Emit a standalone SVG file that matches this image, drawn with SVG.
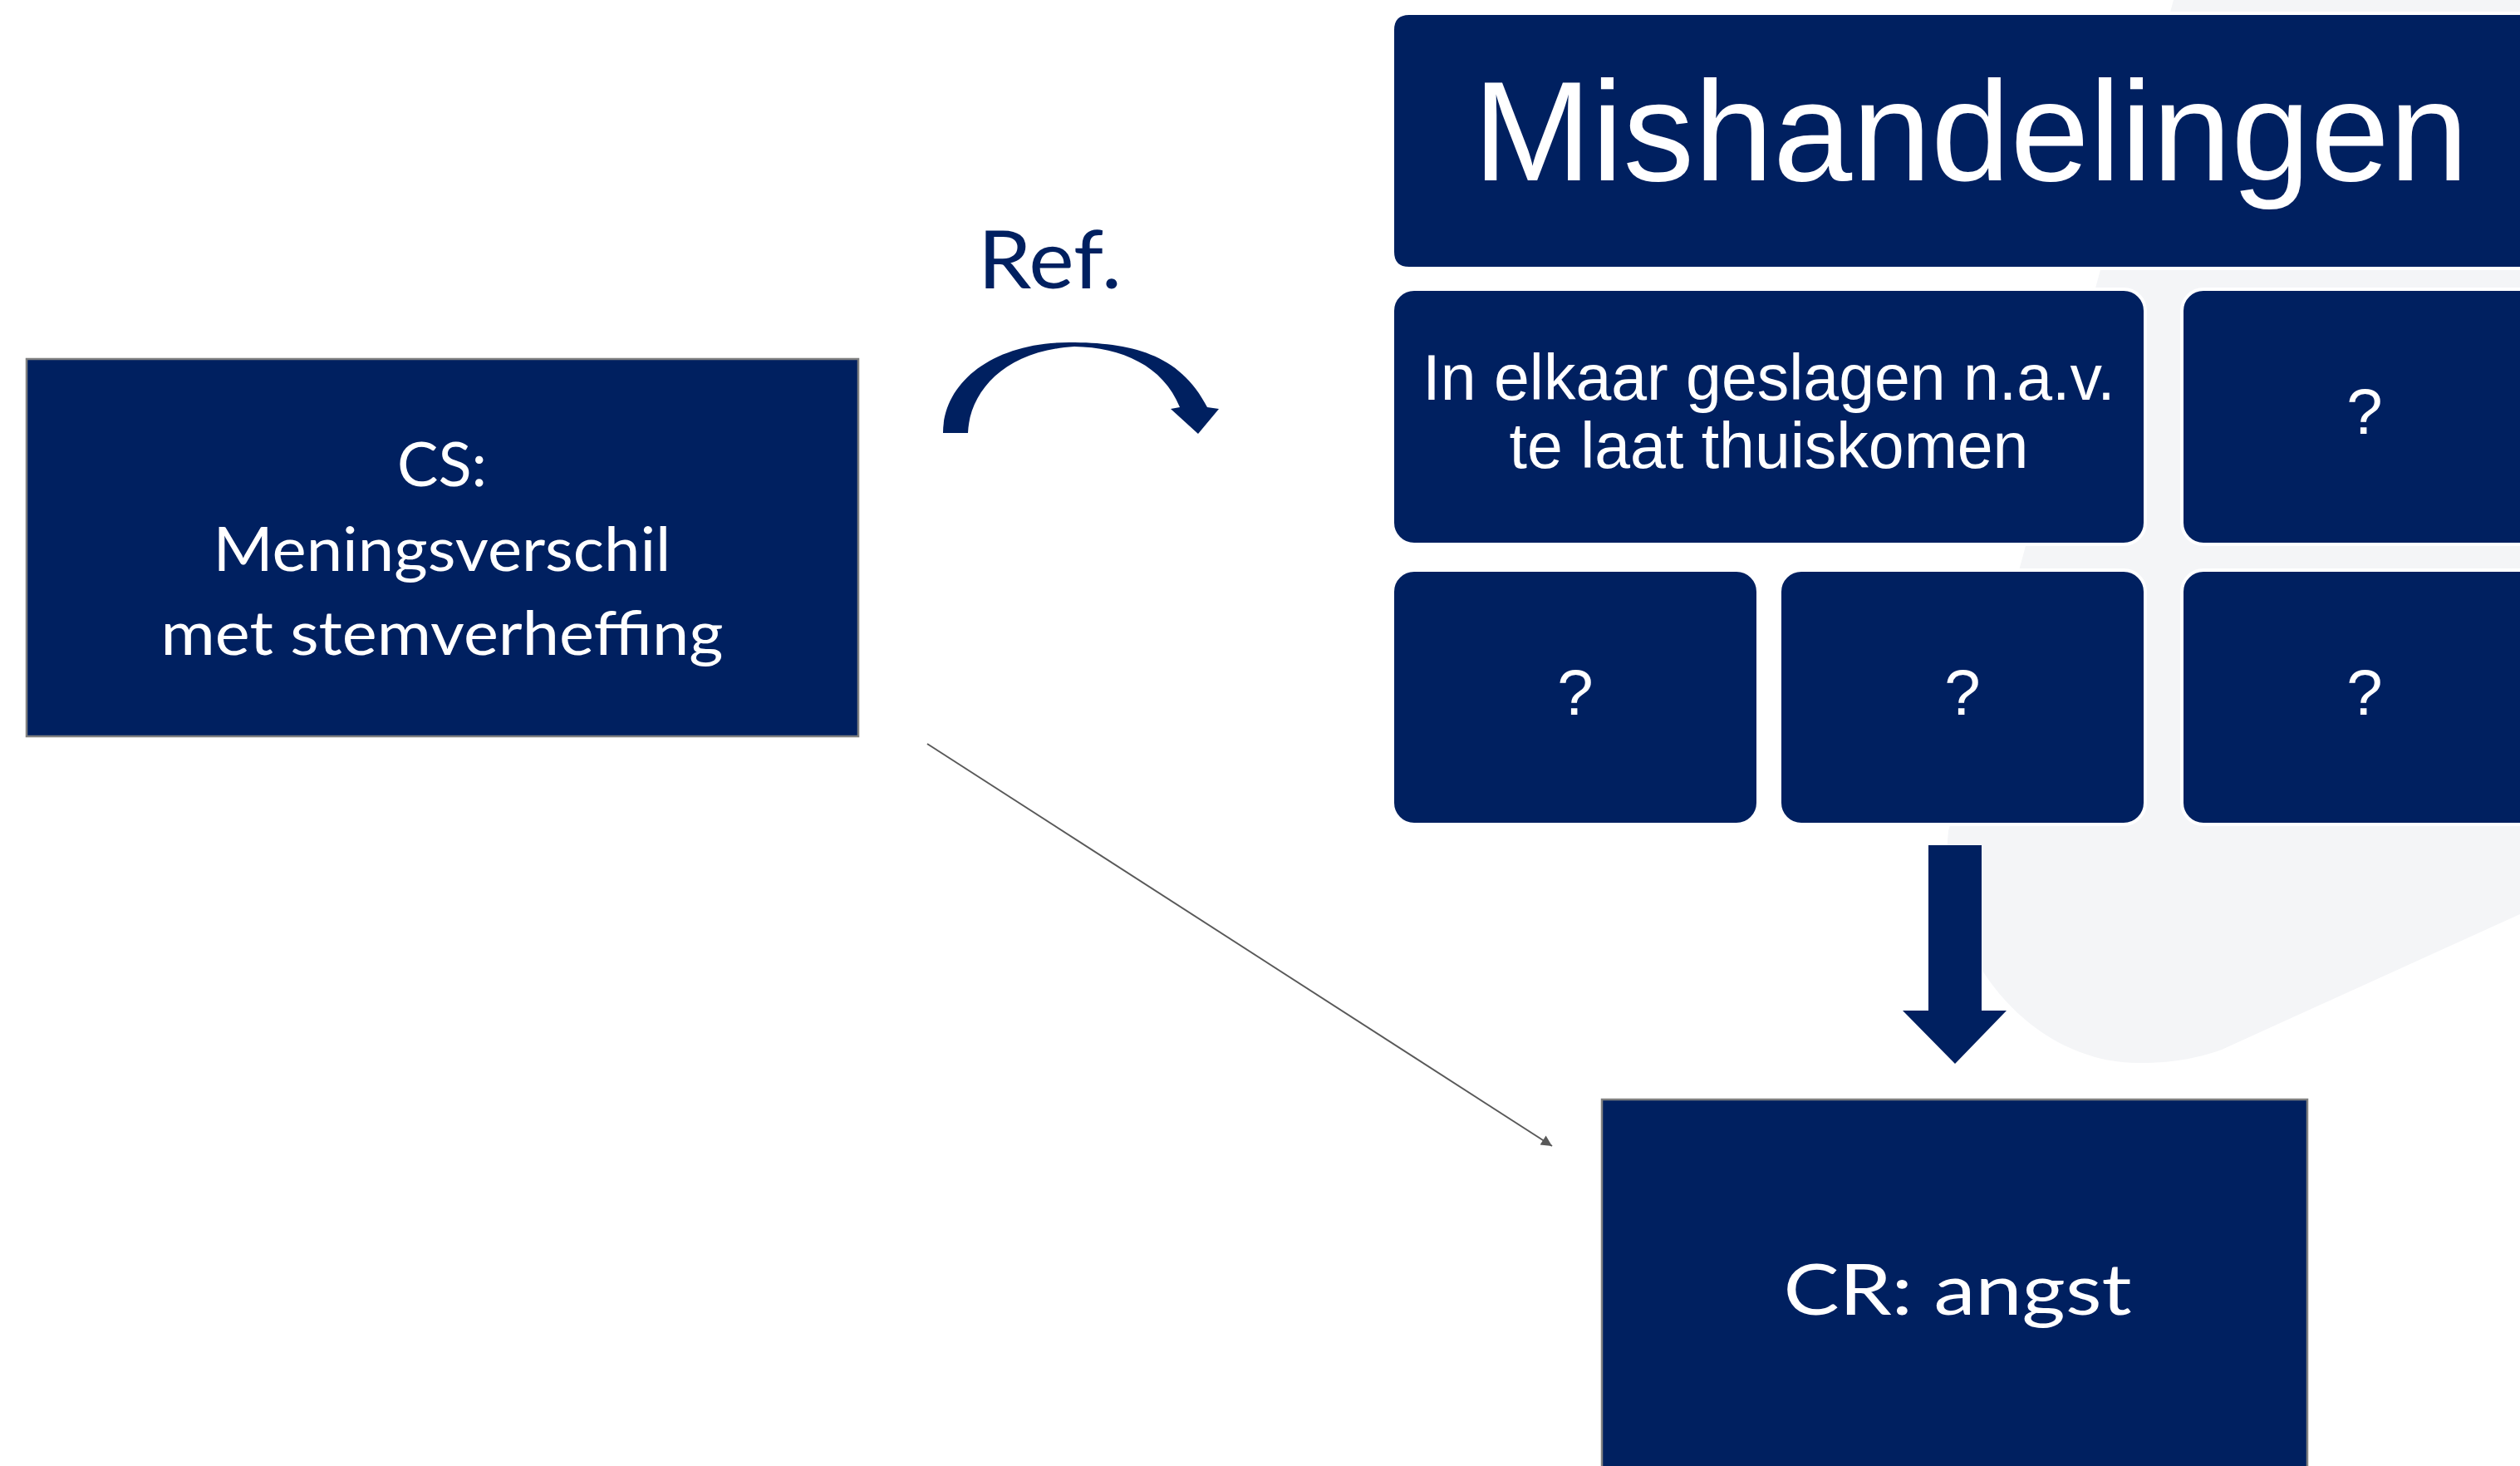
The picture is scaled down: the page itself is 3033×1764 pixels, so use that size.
<svg xmlns="http://www.w3.org/2000/svg" width="3033" height="1764" viewBox="0 0 3033 1764">
<defs>
<style>
.box{fill:#002060;stroke:#FFFFFF;stroke-width:4}
.sq{fill:#002060;stroke:#7F7F7F;stroke-width:2.5}
.ar{font-family:"Liberation Sans",Arial,sans-serif;fill:#FFFFFF;text-anchor:middle}
.hum{font-family:Lato,"Open Sans",sans-serif;fill:#FFFFFF;text-anchor:middle}
.conn{stroke:#595959;stroke-width:2;fill:none}
</style>
<marker id="tri" viewBox="0 0 10 10" refX="10" refY="5" markerUnits="userSpaceOnUse" markerWidth="17" markerHeight="13" orient="auto">
<path d="M0,0 L10,5 L0,10 Z" fill="#595959"/>
</marker>
</defs>
<rect width="3033" height="1764" fill="#FFFFFF"/>
<path id="backdrop" d="M2616,0 L2345,1000 C2330,1140 2440,1280 2575,1279 C2610,1279 2640,1275 2674,1263 L3033,1100 L3033,0 Z" fill="#F4F5F7"/>
<g id="title">
<path class="box" d="M1696,16 H3040 V323 H1696 Q1676,323 1676,303 V36 Q1676,16 1696,16 Z"/>
<text class="ar" x="2372" y="217" font-size="171">Mishandelingen</text>
</g>
<g id="box-a">
<rect class="box" x="1676" y="348" width="906" height="307" rx="26"/>
<text class="ar" x="2129" y="481" font-size="77">In elkaar geslagen n.a.v.</text>
<text class="ar" x="2129" y="563" font-size="77">te laat thuiskomen</text>
</g>
<g id="box-b">
<rect class="box" x="2626" y="348" width="440" height="307" rx="26"/>
<text class="ar" x="2846" y="522" font-size="78">?</text>
</g>
<g id="box-c">
<rect class="box" x="1676" y="686" width="440" height="306" rx="26"/>
<text class="ar" x="1896" y="860" font-size="78">?</text>
</g>
<g id="box-d">
<rect class="box" x="2142" y="686" width="440" height="306" rx="26"/>
<text class="ar" x="2362" y="860" font-size="78">?</text>
</g>
<g id="box-e">
<rect class="box" x="2626" y="686" width="440" height="306" rx="26"/>
<text class="ar" x="2846" y="860" font-size="78">?</text>
</g>
<g id="cs">
<rect class="sq" x="32" y="432" width="1001" height="454"/>
<text class="hum" x="532" y="585" font-size="73" textLength="108" lengthAdjust="spacingAndGlyphs">CS:</text>
<text class="hum" x="532" y="687" font-size="73" textLength="551" lengthAdjust="spacingAndGlyphs">Meningsverschil</text>
<text class="hum" x="532" y="788" font-size="73" textLength="677" lengthAdjust="spacingAndGlyphs">met stemverheffing</text>
</g>
<g id="cr">
<rect class="sq" x="1928" y="1323" width="849" height="460"/>
<text class="hum" x="2356" y="1582" font-size="85" textLength="419" lengthAdjust="spacingAndGlyphs">CR: angst</text>
</g>
<g id="ref-label">
<text x="1177" y="347" font-family="Lato,'Open Sans',sans-serif" font-size="97" fill="#002060" textLength="173" lengthAdjust="spacingAndGlyphs">Ref.</text>
</g>
<g id="connectors">
<path id="ref-arrow" fill="#002060" d="M1135,521 C1135,460 1195,412 1287,412 C1360,412 1420,425 1453,490 L1467,492 L1442,522 L1409,492 L1420,490 C1400,440 1350,418 1293,417 C1210,422 1167,470 1165,521 Z"/>
<path id="down-arrow" fill="#002060" d="M2321,1017 H2385 V1216 H2415 L2353,1280 L2290,1216 H2321 Z"/>
<line class="conn" x1="1116" y1="895" x2="1868" y2="1379" marker-end="url(#tri)"/>
</g>
</svg>
